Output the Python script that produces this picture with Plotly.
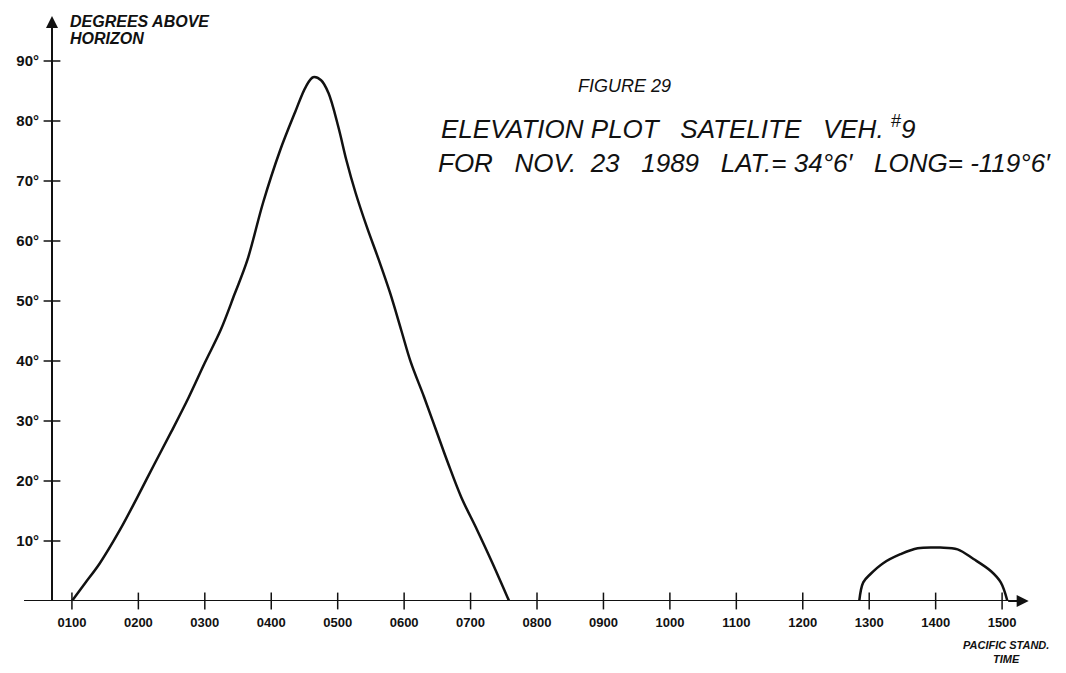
import plotly.graph_objects as go

# ── data ─────────────────────────────────────────────────────────────────────
hour_ticks = list(range(1, 16))
hour_labels = ["0100", "0200", "0300", "0400", "0500", "0600", "0700", "0800",
               "0900", "1000", "1100", "1200", "1300", "1400", "1500"]
elev_ticks = [10, 20, 30, 40, 50, 60, 70, 80, 90]
elev_labels = ["10°", "20°", "30°", "40°", "50°", "60°", "70°", "80°", "90°"]

# first pass (early morning)
pass1_time = [1.00, 1.20, 1.42, 1.72, 1.98, 2.24, 2.50, 2.76, 3.00, 3.24, 3.45,
              3.64, 3.88, 4.13, 4.36, 4.52, 4.63, 4.75, 4.86, 5.01, 5.13, 5.27,
              5.44, 5.62, 5.79, 5.96, 6.10, 6.30, 6.48, 6.66, 6.86, 7.10, 7.33,
              7.58]
pass1_elev = [0.0, 3.0, 6.3, 11.8, 17.2, 22.8, 28.3, 34.0, 39.7, 45.2, 51.2,
              56.8, 66.5, 75.0, 81.5, 85.7, 87.3, 86.8, 84.7, 79.0, 73.5, 68.0,
              62.3, 56.8, 51.3, 45.0, 39.8, 34.0, 28.5, 23.0, 17.3, 11.8, 6.3,
              0.0]

# second pass (afternoon, low)
pass2_time = [12.85, 12.91, 13.02, 13.21, 13.47, 13.73, 14.07, 14.33, 14.57,
              14.83, 14.98, 15.08]
pass2_elev = [0.0, 3.1, 4.5, 6.3, 7.8, 8.8, 8.9, 8.6, 7.0, 5.0, 3.1, 0.0]

X_MIN, X_MAX = 0.70, 15.42
Y_MAX = 97.5
INK = "#111111"
HAND = "Liberation Sans"

fig = go.Figure()

for t, e in ((pass1_time, pass1_elev), (pass2_time, pass2_elev)):
    fig.add_trace(go.Scatter(
        x=t, y=e, mode="lines",
        line=dict(color=INK, width=2.5, shape="spline", smoothing=1.0),
        showlegend=False, hoverinfo="skip",
    ))

# tick marks crossing the axes, like the pen strokes
fig.add_trace(go.Scatter(
    x=hour_ticks, y=[0] * len(hour_ticks), mode="markers",
    marker=dict(symbol="line-ns", size=12, line=dict(color=INK, width=1.5)),
    cliponaxis=False, showlegend=False, hoverinfo="skip",
))
fig.add_trace(go.Scatter(
    x=[X_MIN] * len(elev_ticks), y=elev_ticks, mode="markers",
    marker=dict(symbol="line-ew", size=12, line=dict(color=INK, width=1.5)),
    cliponaxis=False, showlegend=False, hoverinfo="skip",
))

# ── axes drawn as arrows ─────────────────────────────────────────────────────
fig.add_shape(type="line", xref="paper", yref="y",
              x0=-0.0286, x1=0.985, y0=0, y1=0,
              line=dict(color=INK, width=2))
fig.add_shape(type="line", xref="paper", yref="y",
              x0=0, x1=0, y0=-0.6, y1=95,
              line=dict(color=INK, width=2))
fig.add_annotation(x=15.40, y=0, ax=-22, ay=0, text="", showarrow=True,
                   arrowhead=2, arrowsize=1.2, arrowwidth=2, arrowcolor=INK)
fig.add_annotation(x=X_MIN, y=Y_MAX, ax=0, ay=22, text="", showarrow=True,
                   arrowhead=2, arrowsize=1.2, arrowwidth=2, arrowcolor=INK)

# ── hand-lettered texts ──────────────────────────────────────────────────────
axis_font = dict(family=HAND, size=16, color=INK, weight="bold", style="italic")
fig.add_annotation(xref="paper", yref="paper", x=0.016, y=0.991,
                   xanchor="left", yanchor="middle", text="DEGREES ABOVE",
                   showarrow=False, font=axis_font)
fig.add_annotation(xref="paper", yref="paper", x=0.016, y=0.961,
                   xanchor="left", yanchor="middle", text="HORIZON",
                   showarrow=False, font=axis_font)
fig.add_annotation(
    xref="paper", yref="paper", x=0.585, y=0.880, xanchor="center", yanchor="middle",
    text="FIGURE 29", showarrow=False,
    font=dict(family=HAND, size=18, color=INK, style="italic"),
)
fig.add_annotation(
    xref="paper", yref="paper", x=0.396, y=0.810, xanchor="left", yanchor="middle",
    text="ELEVATION PLOT   SATELITE   VEH. <sup>#</sup>9", showarrow=False,
    font=dict(family=HAND, size=26, color=INK, style="italic"),
)
fig.add_annotation(
    xref="paper", yref="paper", x=0.393, y=0.749, xanchor="left", yanchor="middle",
    text="FOR   NOV.  23   1989   LAT.= 34°6′   LONG= -119°6′", showarrow=False,
    font=dict(family=HAND, size=26, color=INK, style="italic"),
)
fig.add_annotation(
    xref="paper", yref="paper", x=0.975, y=-0.062, xanchor="center", yanchor="top",
    text="PACIFIC STAND.<br>TIME", showarrow=False, align="center",
    font=dict(family=HAND, size=11, color=INK, weight="bold", style="italic"),
)

fig.update_xaxes(
    range=[X_MIN, X_MAX], tickvals=hour_ticks, ticktext=hour_labels,
    showline=False, showgrid=False, zeroline=False, ticks="",
    ticklabelstandoff=12, automargin=False,
    tickfont=dict(family=HAND, size=13, color=INK, weight="bold"),
)
fig.update_yaxes(
    range=[0, Y_MAX], tickvals=elev_ticks, ticktext=elev_labels,
    showline=False, showgrid=False, zeroline=False, ticks="",
    ticklabelstandoff=12, automargin=False,
    tickfont=dict(family=HAND, size=15, color=INK, weight="bold"),
)
# the page body adds an 8px offset, so the figure is 8px smaller each way
fig.update_layout(
    width=1058, height=665,
    margin=dict(l=44, r=36, t=8, b=72, autoexpand=False),
    plot_bgcolor="white", paper_bgcolor="white",
    showlegend=False,
)

fig.write_html("out.html")
